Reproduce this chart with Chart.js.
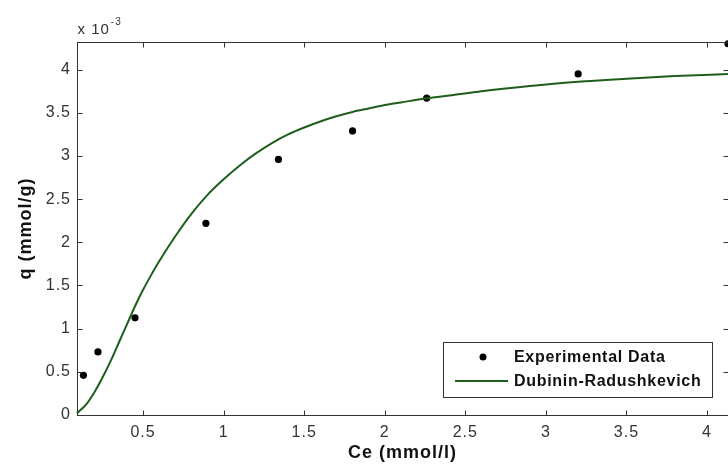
<!DOCTYPE html>
<html>
<head>
<meta charset="utf-8">
<title>Dubinin-Radushkevich isotherm</title>
<script src="https://cdn.jsdelivr.net/npm/chart.js@4.4.1/dist/chart.umd.min.js"></script>
<style>
  html, body { margin: 0; padding: 0; background: #fff; overflow: hidden; }
  #wrap { position: relative; width: 740px; height: 466px; }
</style>
</head>
<body>
<div id="wrap"><canvas id="isotherm"></canvas></div>
<script>
/* ── Data ─────────────────────────────────────────────────── */
// measured uptake, q in units of 1e-3 mmol/g
const ceExp = [0.13, 0.22, 0.45, 0.89, 1.34, 1.80, 2.26, 3.20, 4.13];
const qExp  = [0.46, 0.73, 1.125, 2.22, 2.96, 3.29, 3.67, 3.95, 4.30];

// fitted D-R curve
const ceFit = [0.09, 0.15, 0.20, 0.25, 0.30, 0.35, 0.40, 0.45, 0.50, 0.55, 0.60, 0.70,
               0.80, 0.90, 1.00, 1.10, 1.20, 1.30, 1.40, 1.50, 1.60, 1.70, 1.80, 1.90,
               2.00, 2.10, 2.25, 2.40, 2.60, 2.90, 3.20, 3.50, 3.80, 4.13];
const qFit  = [0.02, 0.13, 0.27, 0.44, 0.63, 0.84, 1.05, 1.26, 1.45, 1.62, 1.78, 2.07,
               2.33, 2.55, 2.73, 2.89, 3.03, 3.15, 3.25, 3.33, 3.40, 3.46, 3.51, 3.55,
               3.59, 3.62, 3.665, 3.70, 3.75, 3.81, 3.86, 3.895, 3.925, 3.95];

const xTicks = [0.5, 1, 1.5, 2, 2.5, 3, 3.5, 4];
const yTicks = [0, 0.5, 1, 1.5, 2, 2.5, 3, 3.5, 4];

const SCALE = 1e-3;
const FONT = "'Liberation Sans', Arial, Helvetica, sans-serif";
const INK = '#333';

const toPts = (xs, ys) => xs.map((x, i) => ({ x, y: ys[i] * SCALE }));

/* ── Slightly spaced text, like the old figure export ─────── */
const spacing = {
  id: 'spacing',
  beforeDraw(chart) { chart.ctx.letterSpacing = '1px'; }
};

/* ── Axes frame with inward ticks (MATLAB style) ──────────── */
const frame = {
  id: 'frame',
  afterDatasetsDraw(chart) {
    const { ctx, chartArea: a, scales: { x, y } } = chart;
    const L = Math.round(a.left) + 0.5, R = Math.round(a.right) + 0.5;
    const T = Math.round(a.top) + 0.5, B = Math.round(a.bottom) + 0.5;
    const len = 5;
    ctx.save();
    ctx.strokeStyle = INK;
    ctx.lineWidth = 1;
    ctx.strokeRect(L, T, R - L, B - T);
    ctx.beginPath();
    x.ticks.forEach(t => {
      const px = Math.round(x.getPixelForValue(t.value)) + 0.5;
      ctx.moveTo(px, B); ctx.lineTo(px, B - len);
      ctx.moveTo(px, T); ctx.lineTo(px, T + len);
    });
    y.ticks.forEach(t => {
      const py = Math.round(y.getPixelForValue(t.value)) + 0.5;
      ctx.moveTo(L, py); ctx.lineTo(L + len, py);
      ctx.moveTo(R, py); ctx.lineTo(R - len, py);
    });
    ctx.stroke();

    // exponent label above the y axis
    ctx.fillStyle = INK;
    ctx.textBaseline = 'alphabetic';
    ctx.textAlign = 'left';
    ctx.font = `15px ${FONT}`;
    ctx.fillText('x 10', L, 34);
    const w = ctx.measureText('x 10').width;
    ctx.font = `10px ${FONT}`;
    ctx.fillText('-3', L + 1 + w, 25);
    ctx.restore();
  }
};

/* ── Boxed legend inside the axes ─────────────────────────── */
const boxLegend = {
  id: 'boxLegend',
  afterDraw(chart) {
    const { ctx } = chart;
    const bx = 443.5, by = 342.5, bw = 269, bh = 55;
    ctx.save();
    ctx.fillStyle = '#fff';
    ctx.fillRect(bx, by, bw, bh);
    ctx.strokeStyle = INK;
    ctx.lineWidth = 1;
    ctx.strokeRect(bx, by, bw, bh);

    ctx.font = `bold 16px ${FONT}`;
    ctx.letterSpacing = '0.7px';
    ctx.textAlign = 'left';
    ctx.textBaseline = 'middle';

    const fit = chart.data.datasets[0], exp = chart.data.datasets[1];
    // marker row
    ctx.beginPath();
    ctx.arc(483, 357, 3.5, 0, Math.PI * 2);
    ctx.fillStyle = exp.backgroundColor;
    ctx.fill();
    ctx.fillStyle = '#111';
    ctx.fillText(exp.label, 514, 358);
    // line row
    ctx.beginPath();
    ctx.moveTo(455, 381); ctx.lineTo(508, 381);
    ctx.strokeStyle = fit.borderColor;
    ctx.lineWidth = fit.borderWidth;
    ctx.stroke();
    ctx.fillText(fit.label, 514, 382);
    ctx.restore();
  }
};

/* ── Chart ────────────────────────────────────────────────── */
new Chart(document.getElementById('isotherm'), {
  type: 'scatter',
  data: {
    datasets: [
      {
        label: 'Dubinin-Radushkevich',
        data: toPts(ceFit, qFit),
        showLine: true,
        borderColor: '#1d5e1d',
        borderWidth: 2,
        pointRadius: 0,
        tension: 0.4,
        cubicInterpolationMode: 'monotone',
        clip: false
      },
      {
        label: 'Experimental Data',
        data: toPts(ceExp, qExp),
        backgroundColor: '#000',
        borderColor: '#000',
        pointRadius: 3.6,
        pointBorderWidth: 0,
        clip: false
      }
    ]
  },
  options: {
    responsive: true,
    maintainAspectRatio: false,
    animation: false,
    layout: { padding: { top: 42, right: 12, left: 0, bottom: 0 } },
    plugins: { legend: { display: false }, tooltip: { enabled: false } },
    scales: {
      x: {
        type: 'linear',
        min: 0.09,
        max: 4.13,
        afterBuildTicks: s => { s.ticks = xTicks.map(v => ({ value: v })); },
        afterFit: s => { s.height = 51; },
        grid: { display: false, drawTicks: false },
        border: { display: false },
        ticks: {
          color: INK,
          font: { family: FONT, size: 16 },
          padding: 8,
          maxRotation: 0,
          callback: v => String(v)
        },
        title: {
          display: true,
          text: 'Ce (mmol/l)',
          color: '#111',
          font: { family: FONT, size: 18, weight: 'bold' },
          padding: { top: 0, bottom: 2 }
        }
      },
      y: {
        type: 'linear',
        min: 0,
        max: 4.32 * SCALE,
        afterBuildTicks: s => { s.ticks = yTicks.map(v => ({ value: v * SCALE })); },
        afterFit: s => { s.width = 77; },
        grid: { display: false, drawTicks: false },
        border: { display: false },
        ticks: {
          color: INK,
          font: { family: FONT, size: 16 },
          padding: 6,
          callback: v => String(Math.round(v / SCALE * 10) / 10)
        },
        title: {
          display: true,
          text: 'q (mmol/g)',
          color: '#111',
          font: { family: FONT, size: 18, weight: 'bold' },
          padding: { top: 15, bottom: 0 }
        }
      }
    }
  },
  plugins: [spacing, frame, boxLegend]
});
</script>
</body>
</html>
